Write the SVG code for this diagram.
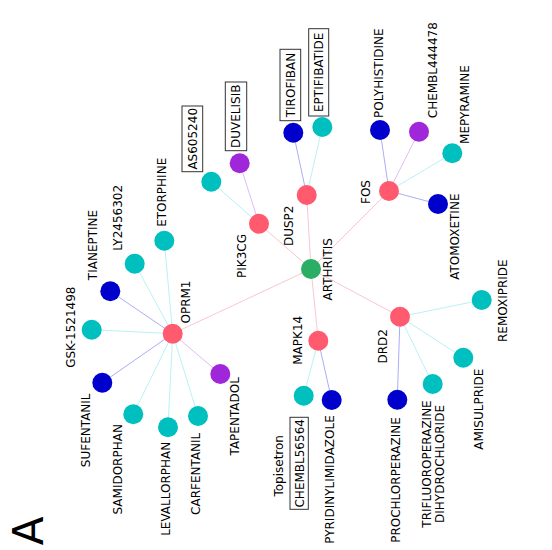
<svg xmlns="http://www.w3.org/2000/svg" width="552" height="550" viewBox="0 0 552 550">
<style>
text{font-family:"DejaVu Sans","Liberation Sans",sans-serif;font-size:12px;fill:#000}
.lbl{text-anchor:middle}
.gene{fill:#ff5a6e}
.dis{fill:#2aae66}
.cy{fill:#00bfbf}
.bl{fill:#0000cd}
.pu{fill:#9f26d9}
.box{fill:#fff;stroke:#333;stroke-width:1}
#edges line{stroke-width:0.9}
.eh{stroke:#f8c0c7}
.ec{stroke:#b0eff5}
.eb{stroke:#a3a3f5}
.ep{stroke:#e0b2f5}
</style>
<rect width="552" height="550" fill="#fff"/>
<g id="edges">
<line class="eh" x1="311" y1="269" x2="306.7" y2="195"/>
<line class="eh" x1="311" y1="269" x2="259" y2="223.7"/>
<line class="eh" x1="311" y1="269" x2="389" y2="191"/>
<line class="eh" x1="311" y1="269" x2="172.7" y2="333.7"/>
<line class="eh" x1="311" y1="269" x2="318.3" y2="340.7"/>
<line class="eh" x1="311" y1="269" x2="400" y2="316.7"/>
<line class="eb" x1="306.7" y1="195" x2="293.3" y2="132.7"/>
<line class="ec" x1="306.7" y1="195" x2="322.3" y2="127"/>
<line class="ec" x1="259" y1="223.7" x2="211.3" y2="181.7"/>
<line class="ep" x1="259" y1="223.7" x2="239.7" y2="163.3"/>
<line class="eb" x1="389" y1="191" x2="380" y2="130"/>
<line class="ep" x1="389" y1="191" x2="419" y2="131.7"/>
<line class="ec" x1="389" y1="191" x2="452.3" y2="153.3"/>
<line class="eb" x1="389" y1="191" x2="438" y2="204"/>
<line class="ec" x1="172.7" y1="333.7" x2="164.3" y2="240.7"/>
<line class="ec" x1="172.7" y1="333.7" x2="134.7" y2="263.7"/>
<line class="eb" x1="172.7" y1="333.7" x2="110.3" y2="291.3"/>
<line class="ec" x1="172.7" y1="333.7" x2="91.7" y2="329.7"/>
<line class="eb" x1="172.7" y1="333.7" x2="102.3" y2="382.7"/>
<line class="ec" x1="172.7" y1="333.7" x2="133.3" y2="414.3"/>
<line class="ec" x1="172.7" y1="333.7" x2="168" y2="427.3"/>
<line class="ec" x1="172.7" y1="333.7" x2="198" y2="416"/>
<line class="ep" x1="172.7" y1="333.7" x2="220.3" y2="374"/>
<line class="ec" x1="318.3" y1="340.7" x2="303.7" y2="395.7"/>
<line class="eb" x1="318.3" y1="340.7" x2="331.7" y2="400"/>
<line class="ec" x1="400" y1="316.7" x2="481.7" y2="300"/>
<line class="ec" x1="400" y1="316.7" x2="463.3" y2="357.7"/>
<line class="ec" x1="400" y1="316.7" x2="432.7" y2="384"/>
<line class="eb" x1="400" y1="316.7" x2="397.3" y2="399.7"/>
</g>
<g id="node-ARTHRITIS"><circle class="dis" cx="311" cy="269" r="10"/><text class="lbl" transform="translate(331.7,269.3) rotate(-90)">ARTHRITIS</text></g>
<g id="node-DUSP2"><circle class="gene" cx="306.7" cy="195" r="10"/><text class="lbl" transform="translate(293.3,225.8) rotate(-90)">DUSP2</text></g>
<g id="node-PIK3CG"><circle class="gene" cx="259" cy="223.7" r="10"/><text class="lbl" transform="translate(245.5,256) rotate(-90)">PIK3CG</text></g>
<g id="node-FOS"><circle class="gene" cx="389" cy="191" r="10"/><text class="lbl" transform="translate(370,192) rotate(-90)">FOS</text></g>
<g id="node-OPRM1"><circle class="gene" cx="172.7" cy="333.7" r="10"/><text class="lbl" transform="translate(190,302) rotate(-90)">OPRM1</text></g>
<g id="node-MAPK14"><circle class="gene" cx="318.3" cy="340.7" r="10"/><text class="lbl" transform="translate(302,340.3) rotate(-90)">MAPK14</text></g>
<g id="node-DRD2"><circle class="gene" cx="400" cy="316.7" r="10"/><text class="lbl" transform="translate(386.7,346.3) rotate(-90)">DRD2</text></g>
<g id="node-TIROFIBAN"><circle class="bl" cx="293.3" cy="132.7" r="10"/><rect class="box" x="280" y="49.3" width="20.7" height="71.4"/><text class="lbl" transform="translate(294.7,85) rotate(-90)">TIROFIBAN</text></g>
<g id="node-EPTIFIBATIDE"><circle class="cy" cx="322.3" cy="127" r="10"/><rect class="box" x="308.7" y="28.7" width="20" height="87.3"/><text class="lbl" transform="translate(323,72.3) rotate(-90)">EPTIFIBATIDE</text></g>
<g id="node-AS605240"><circle class="cy" cx="211.3" cy="181.7" r="10"/><rect class="box" x="182" y="106" width="20.7" height="65.7"/><text class="lbl" transform="translate(196.7,138.8) rotate(-90)">AS605240</text></g>
<g id="node-DUVELISIB"><circle class="pu" cx="239.7" cy="163.3" r="10"/><rect class="box" x="225.3" y="82" width="21.4" height="68.7"/><text class="lbl" transform="translate(240.4,116.3) rotate(-90)">DUVELISIB</text></g>
<g id="node-POLYHISTIDINE"><circle class="bl" cx="380" cy="130" r="10"/><text class="lbl" transform="translate(383.3,73.2) rotate(-90)">POLYHISTIDINE</text></g>
<g id="node-CHEMBL444478"><circle class="pu" cx="419" cy="131.7" r="10"/><text class="lbl" transform="translate(437.3,70.2) rotate(-90)">CHEMBL444478</text></g>
<g id="node-MEPYRAMINE"><circle class="cy" cx="452.3" cy="153.3" r="10"/><text class="lbl" transform="translate(469.3,104.5) rotate(-90)">MEPYRAMINE</text></g>
<g id="node-ATOMOXETINE"><circle class="bl" cx="438" cy="204" r="10"/><text class="lbl" transform="translate(459,236.7) rotate(-90)">ATOMOXETINE</text></g>
<g id="node-ETORPHINE"><circle class="cy" cx="164.3" cy="240.7" r="10"/><text class="lbl" transform="translate(166,192.3) rotate(-90)">ETORPHINE</text></g>
<g id="node-LY2456302"><circle class="cy" cx="134.7" cy="263.7" r="10"/><text class="lbl" transform="translate(122,217.8) rotate(-90)">LY2456302</text></g>
<g id="node-TIANEPTINE"><circle class="bl" cx="110.3" cy="291.3" r="10"/><text class="lbl" transform="translate(96.7,245) rotate(-90)">TIANEPTINE</text></g>
<g id="node-GSK-1521498"><circle class="cy" cx="91.7" cy="329.7" r="10"/><text class="lbl" transform="translate(75.3,327.2) rotate(-90)">GSK-1521498</text></g>
<g id="node-SUFENTANIL"><circle class="bl" cx="102.3" cy="382.7" r="10"/><text class="lbl" transform="translate(90,430.3) rotate(-90)">SUFENTANIL</text></g>
<g id="node-SAMIDORPHAN"><circle class="cy" cx="133.3" cy="414.3" r="10"/><text class="lbl" transform="translate(121.7,469.3) rotate(-90)">SAMIDORPHAN</text></g>
<g id="node-LEVALLORPHAN"><circle class="cy" cx="168" cy="427.3" r="10"/><text class="lbl" transform="translate(170,488.8) rotate(-90)">LEVALLORPHAN</text></g>
<g id="node-CARFENTANIL"><circle class="cy" cx="198" cy="416" r="10"/><text class="lbl" transform="translate(200,473.8) rotate(-90)">CARFENTANIL</text></g>
<g id="node-TAPENTADOL"><circle class="pu" cx="220.3" cy="374" r="10"/><text class="lbl" transform="translate(239,416.3) rotate(-90)">TAPENTADOL</text></g>
<g id="node-CHEMBL56564"><circle class="cy" cx="303.7" cy="395.7" r="10"/><rect class="box" x="290" y="417.3" width="18.3" height="92"/><text class="lbl" transform="translate(303.6,463.3) rotate(-90)">CHEMBL56564</text><text class="lbl" transform="translate(282.7,465.8) rotate(-90)">Topisetron</text></g>
<g id="node-PYRIDINYLIMIDAZOLE"><circle class="bl" cx="331.7" cy="400" r="10"/><text class="lbl" transform="translate(334,479.5) rotate(-90)">PYRIDINYLIMIDAZOLE</text></g>
<g id="node-REMOXIPRIDE"><circle class="cy" cx="481.7" cy="300" r="10"/><text class="lbl" transform="translate(506.7,300.7) rotate(-90)">REMOXIPRIDE</text></g>
<g id="node-AMISULPRIDE"><circle class="cy" cx="463.3" cy="357.7" r="10"/><text class="lbl" transform="translate(483.3,409.2) rotate(-90)">AMISULPRIDE</text></g>
<g id="node-TRIFLUOROPERAZINE"><circle class="cy" cx="432.7" cy="384" r="10"/><text class="lbl" transform="translate(430.7,464) rotate(-90)">TRIFLUOROPERAZINE</text><text class="lbl" transform="translate(444,464) rotate(-90)">DIHYDROCHLORIDE</text></g>
<g id="node-PROCHLORPERAZINE"><circle class="bl" cx="397.3" cy="399.7" r="10"/><text class="lbl" transform="translate(400,480) rotate(-90)">PROCHLORPERAZINE</text></g>
<text id="panel-A" transform="translate(43.3,531) rotate(-90)" style="font-size:42px;text-anchor:middle">A</text>
</svg>
